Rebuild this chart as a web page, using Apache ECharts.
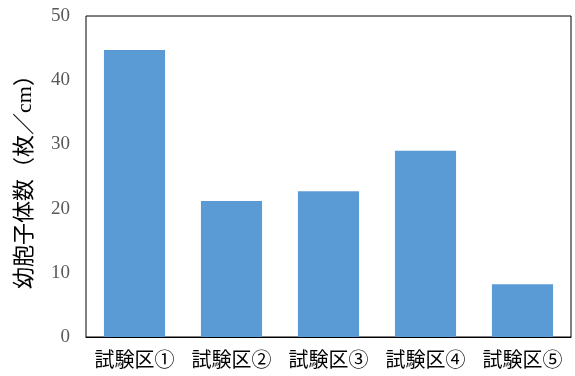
<!DOCTYPE html>
<html>
<head>
<meta charset="utf-8">
<script src="https://cdn.jsdelivr.net/npm/echarts@6/dist/echarts.min.js"></script>
<style>
  html, body { margin: 0; padding: 0; background: #fff; }
  #chart { width: 575px; height: 376px; }
</style>
</head>
<body>
<div id="chart"></div>
<script>
// Plots (試験区) and juvenile sporophyte density per cm
const categories = ['試験区①', '試験区②', '試験区③', '試験区④', '試験区⑤'];
const densities = [44.7, 21.2, 22.7, 29.0, 8.2];
const yTicks = { min: 0, max: 50, step: 10 };
const yAxisTitle = '幼胞子体数（枚／cm）';

const serifLatin = '"Liberation Serif", "Noto Sans CJK JP", serif';

const chart = echarts.init(document.getElementById('chart'), null, { renderer: 'canvas' });
chart.setOption({
  animation: false,
  backgroundColor: '#ffffff',
  grid: {
    left: 86, right: 4, top: 16, bottom: 39,
    show: true, borderColor: '#000000', borderWidth: 1, backgroundColor: 'transparent'
  },
  xAxis: {
    type: 'category',
    data: categories,
    axisLine: { show: true, lineStyle: { color: '#000000', width: 1 } },
    axisTick: { show: false },
    axisLabel: {
      interval: 0, hideOverlap: false,
      color: '#000000', fontSize: 20, margin: 15,
      fontFamily: serifLatin
    }
  },
  yAxis: {
    type: 'value',
    min: yTicks.min, max: yTicks.max, interval: yTicks.step,
    name: yAxisTitle,
    nameLocation: 'middle',
    nameGap: 50,
    nameTextStyle: { color: '#000000', fontSize: 22, fontFamily: serifLatin },
    axisLine: { show: false },
    axisTick: { show: false },
    splitLine: { show: false },
    axisLabel: {
      color: '#595959', fontSize: 19, margin: 16,
      fontFamily: serifLatin
    }
  },
  series: [{
    type: 'bar',
    data: densities,
    barWidth: '63%',
    itemStyle: { color: '#5b9bd5' }
  }]
});
</script>
</body>
</html>
